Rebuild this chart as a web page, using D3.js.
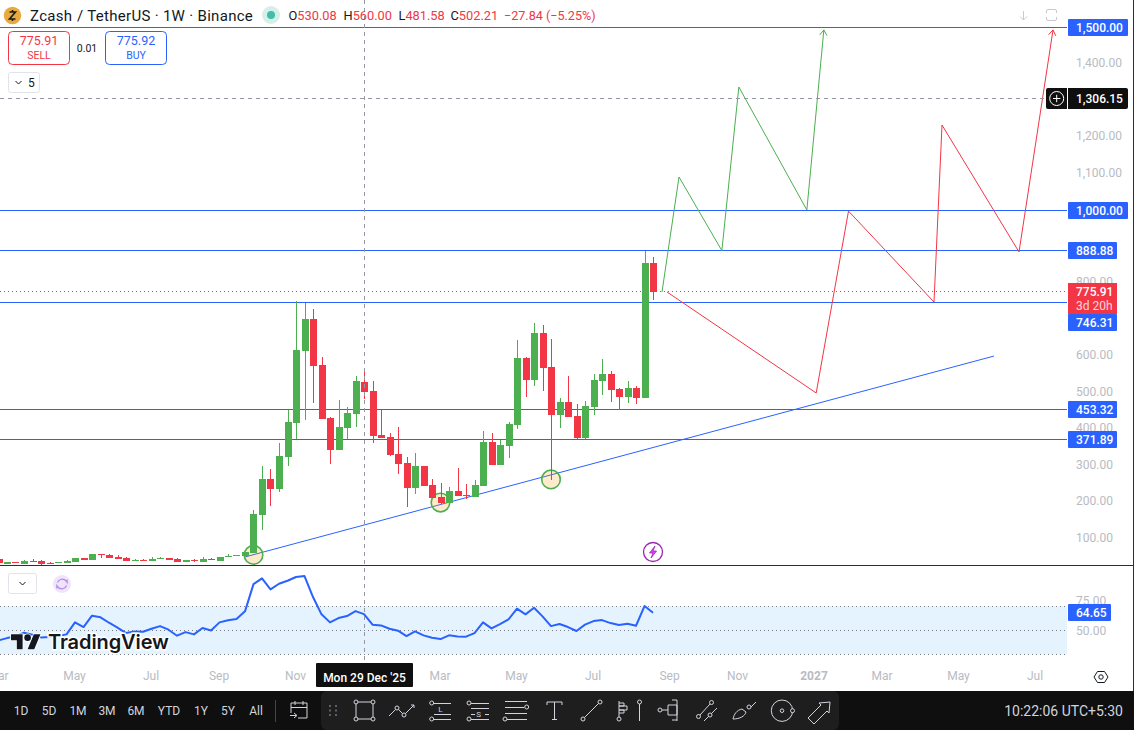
<!DOCTYPE html>
<html>
<head>
<meta charset="utf-8">
<script src="https://cdn.jsdelivr.net/npm/d3@7"></script>
<style>
  html, body { margin: 0; padding: 0; background: #fff; overflow: hidden; }
  svg { display: block; font-family: Roboto, sans-serif; }
  text { -webkit-font-smoothing: antialiased; }
</style>
</head>
<body>
<div id="chart"></div>
<script>
// weekly candles, first one is 43 weeks before the hovered candle
var firstWeek = new Date(2025, 2, 3);
var opens = [43.5, 30.7, 36.2, 30.7, 38.9, 38.9, 33.4, 33.4, 33.4, 36.2, 47.1, 41.7, 58.1, 55.3, 49.9, 47.1, 38.9, 41.7, 38.9, 44.4, 47.1, 44.4, 36.2, 41.7, 36.2, 44.4, 38.9, 49.9, 52.6, 52.5,
  61.6, 164.7, 263.2, 235.8, 323.4, 416.4, 613.4, 701, 575.1, 430.1, 342.5, 402.7, 441,
  530.08, 504, 383.6, 378.1, 331.6, 307, 238.6, 298.8, 246.8, 214, 197.6, 230.4, 219.5, 214, 244.1, 364.5, 301.6, 353.6, 411, 594.4, 534.2, 662.8, 569.7, 438.4, 474, 435.7, 375.5, 460.3, 531.4, 550.6, 509.5, 487.6, 512.3, 484.9, 854.3];
var highs = [43.5, 36.2, 36.2, 41.7, 44.4, 41.7, 36.2, 36.2, 41.7, 47.1, 47.1, 58.1, 58.1, 58.1, 55.3, 49.9, 44.4, 44.4, 49.9, 49.9, 47.1, 47.1, 41.7, 44.4, 49.9, 47.1, 49.9, 58.1, 55.3, 63.4,
  178.4, 298.8, 290.6, 361.7, 452, 750.2, 745.6, 728.3, 597, 432.8, 479.3, 460.2, 545,
  560, 531.3, 452, 389, 405.5, 323.4, 334.3, 298.8, 263.2, 252.2, 241.3, 293.4, 249.6, 260.5, 394.6, 389.2, 370, 419.2, 643.6, 597.1, 690.1, 684.6, 646.3, 484.9, 545.1, 468.5, 476.7, 550.6, 591.6, 558.8, 512.3, 531.4, 517.7, 888.88, 870.7];
var lows = [32.5, 30.7, 33.4, 30.7, 36.2, 28, 30.7, 33.4, 33.4, 36.2, 41.7, 41.7, 47.1, 47.1, 44.4, 38.9, 38.9, 38.9, 38.9, 44.4, 41.7, 36.2, 36.2, 36.2, 36.2, 41.7, 38.9, 49.9, 52.6, 52.5,
  61.6, 123.7, 189.3, 227.6, 298.8, 372.6, 424.6, 471.1, 427.4, 304.2, 342.5, 372.6, 405.5,
  481.58, 361.7, 375.4, 326.1, 276.9, 186.6, 222.2, 244, 211.2, 194.8, 197.6, 216.7, 209.5, 214, 244.1, 301.6, 301.6, 320.8, 400.1, 487.6, 517.7, 504.1, 260.6, 402.8, 433, 372.7, 372.7, 438.4, 493.1, 474, 452.1, 471.2, 468.5, 484.9, 753];
var closes = [32.5, 36.2, 33.4, 39.8, 36.2, 30.7, 30.7, 36.2, 38.9, 47.1, 41.7, 58.1, 55.3, 47.1, 44.4, 38.9, 41.7, 38.9, 44.4, 47.1, 41.7, 36.2, 41.7, 38.9, 44.4, 41.7, 49.9, 52.6, 55.3, 63.4,
  167.4, 263.2, 235.8, 326.1, 419.1, 616.1, 701, 572.4, 427.4, 342.5, 405.5, 443.8, 531.3,
  502.21, 380.8, 375.4, 328.9, 304.2, 238.6, 298.8, 244, 211.2, 197.6, 230.4, 216.7, 216.8, 246.9, 364.5, 301.6, 356.3, 413.8, 594.4, 534.2, 662.8, 567, 438.4, 474, 433, 375.5, 463, 534.2, 550.6, 506.8, 487.6, 512.3, 484.9, 854.3, 775.91];
var rsiValues = [41.6, 43.5, 44.9, 48, 46.3, 44.1, 44.4, 45.2, 46.6, 56.6, 52.7, 62.2, 60.8, 56.3, 52.2, 47.7, 49.1, 48.8, 51.3, 53.5, 50.5, 45.5, 48.5, 46.6, 51.9, 49.9, 56.6, 58.3, 59.4, 65.8,
  88.5, 93.3, 84.1, 88.8, 91.3, 94.4, 95.2, 77.7, 63.3, 56.6, 60.2, 61.9, 66,
  63.5, 54.7, 54.1, 51.3, 49.7, 45.2, 49.1, 45.8, 43.8, 42.7, 45.8, 44.9, 44.7, 47.7, 56.6, 51.6, 55.2, 59.1, 68, 63.3, 68.8, 61.6, 53.5, 55.2, 52.7, 49.4, 54.7, 57.7, 58.5, 56, 54.4, 55.5, 53.8, 70.2, 64.65];

// drawings: [weeks from the hovered candle, price]
var hoverWeek = new Date(2025, 11, 29);
var greenPath = [[35.06, 775.5], [37.06, 1090.4], [42.1, 888.88], [44.1, 1336.8], [52.1, 1000], [54.1, 1493]];
var redPath = [[35.65, 775.5], [53.2, 499], [57.0, 997], [67.06, 748], [68, 1232.7], [77.06, 885], [81.06, 1493]];
var trendLine = [[-14, 50], [74.1, 600]];
var touchCircles = [[-13, 55.6], [9, 199], [22, 262.3]];
var levels = [1500, 1000, 888.88, 746.31, 453.32, 371.89];
var levelLabels = ["1,500.00", "1,000.00", "888.88", "746.31", "453.32", "371.89"];

var priceTicks = [100, 200, 300, 400, 500, 600, 800, 1100, 1200, 1400];
var rsiTicks = [50, 75];
var rsiBands = [30, 50, 70];
var monthTicks = [new Date(2025, 2, 3), new Date(2025, 4, 5), new Date(2025, 6, 7), new Date(2025, 8, 1), new Date(2025, 10, 3),
  new Date(2026, 2, 2), new Date(2026, 4, 4), new Date(2026, 6, 6), new Date(2026, 8, 7), new Date(2026, 10, 2),
  new Date(2027, 0, 4), new Date(2027, 2, 1), new Date(2027, 4, 3), new Date(2027, 6, 5)];
var rangeButtons = ["1D", "5D", "1M", "3M", "6M", "YTD", "1Y", "5Y", "All"];
var rangeButtonX = [21, 49, 78, 107, 136, 169, 201, 228, 256];
var legendKeys = ["O", "H", "L", "C"];
var legendValues = ["530.08", "560.00", "481.58", "502.21"];
var legendX = [288.5, 343.5, 398.5, 450.5];

var up = "#4caf50", down = "#f23645", blue = "#2962ff", axisGrey = "#b8bbc2", ink = "#131722", light = "#d1d4dc";
var WEEK = 7 * 24 * 3600 * 1000;
var paneRight = 1067;

var svg = d3.select("#chart").append("svg").attr("width", 1134).attr("height", 730);

var x = d3.scaleTime().domain([hoverWeek, new Date(2027, 0, 4)]).range([364, 814.5]);
var y = d3.scaleLinear().domain([371.89, 1500]).range([439.4, 27.4]);
var yRsi = d3.scaleLinear().domain([30, 70]).range([654.3, 606.3]);

function weekX(w) { return x(new Date(hoverWeek.getTime() + w * WEEK)); }
var drawLine = d3.line().x(function (d) { return weekX(d[0]); }).y(function (d) { return y(d[1]); });

var candles = opens.map(function (o, i) {
  return { date: new Date(firstWeek.getTime() + i * WEEK), o: o, h: highs[i], l: lows[i], c: closes[i], rsi: rsiValues[i] };
});

var main = svg.append("g");

// price axis, sits under the coloured labels
var priceAxis = d3.axisRight(y).tickValues(priceTicks).tickSize(0).tickPadding(9)
  .tickFormat(d3.format(",.2f"));
var gPrice = svg.append("g").attr("transform", "translate(" + paneRight + ",0)").call(priceAxis);
gPrice.select(".domain").remove();
gPrice.selectAll("text").attr("fill", axisGrey).attr("font-size", 12).attr("font-family", "Roboto").attr("dy", "0.22em");

// horizontal levels and last price
main.selectAll("line.level").data(levels).enter().append("line").attr("class", "level")
  .attr("x1", 0).attr("x2", paneRight)
  .attr("y1", function (d) { return Math.floor(y(d)) + 0.5; })
  .attr("y2", function (d) { return Math.floor(y(d)) + 0.5; })
  .attr("stroke", blue).attr("stroke-width", 1);

main.append("line").attr("x1", 0).attr("x2", paneRight)
  .attr("y1", Math.floor(y(775.91)) + 0.5).attr("y2", Math.floor(y(775.91)) + 0.5)
  .attr("stroke", down).attr("stroke-dasharray", "1 3");

// trend line and touch circles
main.append("path").attr("d", drawLine(trendLine)).attr("fill", "none").attr("stroke", blue).attr("stroke-width", 1);
main.selectAll("circle.touch").data(touchCircles).enter().append("circle").attr("class", "touch")
  .attr("cx", function (d) { return weekX(d[0]); })
  .attr("cy", function (d) { return y(d[1]); })
  .attr("r", 9.3)
  .attr("fill", "#ff9800").attr("fill-opacity", 0.2)
  .attr("stroke", up).attr("stroke-width", 1.6);

// forecast zigzags
function arrowHead(path, color) {
  var a = path[path.length - 2], b = path[path.length - 1];
  var bx = weekX(b[0]), by = y(b[1]);
  var ang = Math.atan2(by - y(a[1]), bx - weekX(a[0]));
  var len = 6.5;
  main.append("path")
    .attr("d", "M" + (bx - len * Math.cos(ang - 0.6)) + "," + (by - len * Math.sin(ang - 0.6)) + "L" + bx + "," + by +
      "L" + (bx - len * Math.cos(ang + 0.6)) + "," + (by - len * Math.sin(ang + 0.6)))
    .attr("fill", "none").attr("stroke", color).attr("stroke-width", 1);
}
main.append("path").attr("d", drawLine(greenPath)).attr("fill", "none").attr("stroke", up).attr("stroke-width", 1);
main.append("path").attr("d", drawLine(redPath)).attr("fill", "none").attr("stroke", down).attr("stroke-width", 1);
arrowHead(greenPath, up);
arrowHead(redPath, down);

// candles
svg.append("clipPath").attr("id", "paneClip").append("rect").attr("x", 0).attr("y", 0).attr("width", paneRight).attr("height", 565);
var gCandles = svg.append("g").attr("clip-path", "url(#paneClip)");
var candle = gCandles.selectAll("g").data(candles).enter().append("g")
  .attr("fill", function (d) { return d.c >= d.o ? up : down; });
candle.append("rect")
  .attr("x", function (d) { return Math.round(x(d.date)); })
  .attr("width", 1)
  .attr("y", function (d) { return Math.round(y(d.h)); })
  .attr("height", function (d) { return Math.max(1, Math.round(y(d.l)) - Math.round(y(d.h))); });
candle.append("rect")
  .attr("x", function (d) { return Math.round(x(d.date)) - 3; })
  .attr("width", 7)
  .attr("y", function (d) { return Math.round(y(Math.max(d.o, d.c))); })
  .attr("height", function (d) { return Math.max(1, Math.round(y(Math.min(d.o, d.c))) - Math.round(y(Math.max(d.o, d.c)))); });

// pane separator
svg.append("rect").attr("x", 0).attr("y", 565).attr("width", 1134).attr("height", 1).attr("fill", "#2a2e39");
svg.append("rect").attr("x", 1133).attr("y", 0).attr("width", 1).attr("height", 691).attr("fill", "#2a2e39");

// rsi pane
svg.append("rect").attr("x", 0).attr("width", paneRight).attr("y", yRsi(70)).attr("height", yRsi(30) - yRsi(70))
  .attr("fill", "#e3f2fd").attr("fill-opacity", 0.95);
svg.selectAll("line.band").data(rsiBands).enter().append("line").attr("class", "band")
  .attr("x1", 0).attr("x2", paneRight)
  .attr("y1", function (d) { return Math.floor(yRsi(d)) + 0.5; })
  .attr("y2", function (d) { return Math.floor(yRsi(d)) + 0.5; })
  .attr("stroke", "#787b86").attr("stroke-dasharray", "1 3");
svg.append("path").datum(candles)
  .attr("d", d3.line().x(function (d) { return x(d.date); }).y(function (d) { return yRsi(d.rsi); }))
  .attr("fill", "none").attr("stroke", blue).attr("stroke-width", 2).attr("stroke-linejoin", "round");

var rsiAxis = d3.axisRight(yRsi).tickValues(rsiTicks).tickSize(0).tickPadding(9).tickFormat(d3.format(".2f"));
var gRsi = svg.append("g").attr("transform", "translate(" + paneRight + ",0)").call(rsiAxis);
gRsi.select(".domain").remove();
gRsi.selectAll("text").attr("fill", axisGrey).attr("font-size", 12).attr("font-family", "Roboto");

// time axis
var monthFormat = function (d) { return d.getMonth() === 0 ? String(d.getFullYear()) : d3.timeFormat("%b")(d); };
var timeAxis = d3.axisBottom(x).tickValues(monthTicks).tickSize(0).tickPadding(0).tickFormat(monthFormat);
var gTime = svg.append("g").attr("transform", "translate(-1,671)").call(timeAxis);
gTime.select(".domain").remove();
gTime.selectAll("text").attr("fill", axisGrey).attr("font-size", 12).attr("font-family", "Roboto")
  .attr("font-weight", function (d) { return d.getMonth() === 0 ? 700 : 400; });

// crosshair
svg.append("line").attr("x1", 364.5).attr("x2", 364.5).attr("y1", 0).attr("y2", 660)
  .attr("stroke", "#9598a1").attr("stroke-dasharray", "4 4");
svg.append("line").attr("x1", 0).attr("x2", paneRight).attr("y1", Math.floor(y(1306.15)) + 0.5).attr("y2", Math.floor(y(1306.15)) + 0.5)
  .attr("stroke", "#9598a1").attr("stroke-dasharray", "4 4");

// coloured price labels
function priceLabel(value, text, w, cy, color) {
  svg.append("rect").attr("x", 1068).attr("y", cy - 8.5).attr("width", w).attr("height", 17).attr("rx", 1).attr("fill", color);
  svg.append("text").attr("x", 1076).attr("y", cy + 4.3).attr("font-size", 12).attr("fill", "#fff").attr("font-weight", 500).text(text);
}
levels.forEach(function (v, i) {
  var cy = Math.floor(y(v)) + 0.5;
  if (v === 746.31) cy = 322.5;
  priceLabel(v, levelLabels[i], levelLabels[i].length > 6 ? 60 : 49, cy, blue);
});
svg.append("rect").attr("x", 1068).attr("y", 283).attr("width", 49).attr("height", 31).attr("fill", down);
svg.append("text").attr("x", 1076).attr("y", 296).attr("font-size", 12).attr("fill", "#fff").attr("font-weight", 500).text("775.91");
svg.append("text").attr("x", 1076).attr("y", 310).attr("font-size", 12).attr("fill", "#fff").attr("fill-opacity", 0.8).text("3d 20h");
priceLabel(64.65, "64.65", 43, 612.5, blue);

// crosshair price label
svg.append("rect").attr("x", 1046).attr("y", 88).attr("width", 82).attr("height", 21).attr("rx", 2).attr("fill", "#0f0f0f");
svg.append("rect").attr("x", 1067).attr("y", 88).attr("width", 1).attr("height", 21).attr("fill", "#fff");
svg.append("circle").attr("cx", 1056.7).attr("cy", 98.5).attr("r", 7).attr("fill", "none").attr("stroke", "#fff");
svg.append("path").attr("d", "M1053 98.5h7.4M1056.7 94.8v7.4").attr("stroke", "#fff").attr("fill", "none");
svg.append("text").attr("x", 1076).attr("y", 102.8).attr("font-size", 12).attr("fill", "#fff").attr("font-weight", 500).text("1,306.15");

// corner icons
svg.append("path").attr("d", "M1023.5 11v9M1020 16.5l3.5 3.5 3.5-3.5").attr("fill", "none").attr("stroke", "#c8cad0");
svg.append("path").attr("d", "M1046.5 13v-2a1.5 1.5 0 0 1 1.5-1.5h7a1.5 1.5 0 0 1 1.5 1.5v2M1046.5 17v2a1.5 1.5 0 0 0 1.5 1.5h7a1.5 1.5 0 0 0 1.5-1.5v-2")
  .attr("fill", "none").attr("stroke", "#c8cad0");

// header
svg.append("circle").attr("cx", 12.5).attr("cy", 15.5).attr("r", 8.7).attr("fill", "#e8a93e");
svg.append("path").attr("d", "M9.5 12h6l-6 7h6M12.5 10v2M12.5 19v2").attr("fill", "none").attr("stroke", "#1b1b1b").attr("stroke-width", 1.6);
svg.append("text").attr("x", 30).attr("y", 20.5).attr("font-size", 15).attr("letter-spacing", 0.3).attr("fill", ink).text("Zcash");
svg.append("text").attr("x", 77).attr("y", 20.5).attr("font-size", 15).attr("letter-spacing", 0.3).attr("fill", ink).text("/ TetherUS · 1W · Binance");
svg.append("circle").attr("cx", 271).attr("cy", 15).attr("r", 9).attr("fill", "#d6efea");
svg.append("circle").attr("cx", 271).attr("cy", 15).attr("r", 4).attr("fill", "#42bda8");

legendKeys.forEach(function (k, i) {
  var t = svg.append("text").attr("x", legendX[i]).attr("y", 20).attr("font-size", 12.8).attr("fill", down);
  t.append("tspan").attr("fill", ink).text(k);
  t.append("tspan").text(legendValues[i]);
});
svg.append("text").attr("x", 504).attr("y", 20).attr("font-size", 12.6).attr("fill", down).text("−27.84 (−5.25%)");

// buy and sell buttons
function tradeBox(bx, color, price, label) {
  svg.append("rect").attr("x", bx + 0.5).attr("y", 31.5).attr("width", 61).attr("height", 33).attr("rx", 4).attr("fill", "#fff").attr("stroke", color);
  svg.append("text").attr("x", bx + 31).attr("y", 45).attr("text-anchor", "middle").attr("font-size", 12.5).attr("fill", color).text(price);
  svg.append("text").attr("x", bx + 31).attr("y", 59).attr("text-anchor", "middle").attr("font-size", 10.5).attr("fill", color).text(label);
}
tradeBox(8, down, "775.91", "SELL");
tradeBox(105, blue, "775.92", "BUY");
svg.append("text").attr("x", 87).attr("y", 51.5).attr("text-anchor", "middle").attr("font-size", 10.5).attr("fill", ink).text("0.01");

svg.append("rect").attr("x", 8.5).attr("y", 72.5).attr("width", 31).attr("height", 20).attr("rx", 2).attr("fill", "#fff").attr("stroke", "#e0e3eb");
svg.append("path").attr("d", "M15.5 81l3 3 3-3").attr("fill", "none").attr("stroke", ink);
svg.append("text").attr("x", 28).attr("y", 87).attr("font-size", 12).attr("fill", ink).text("5");

// lightning marker
svg.append("circle").attr("cx", 653).attr("cy", 552).attr("r", 9.5).attr("fill", "#fff").attr("stroke", "#9c27b0").attr("stroke-width", 1.3);
svg.append("path").attr("d", "M655 546l-5.5 7h3.5l-2 5 5.5-7h-3.5z").attr("fill", "#e040fb").attr("stroke", "#9c27b0").attr("stroke-width", 0.8);

// rsi pane buttons
svg.append("rect").attr("x", 8.5).attr("y", 573.5).attr("width", 28).attr("height", 20).attr("rx", 2).attr("fill", "#fff").attr("stroke", "#e0e3eb");
svg.append("path").attr("d", "M19.5 582l3 3 3-3").attr("fill", "none").attr("stroke", ink);
svg.append("circle").attr("cx", 62).attr("cy", 584).attr("r", 9).attr("fill", "#efe4fb");
svg.append("path").attr("d", "M57.5 582.5a5 5 0 0 1 8.6-1.5l1 1.5v-3M66.5 585.5a5 5 0 0 1-8.6 1.5l-1-1.5v3").attr("fill", "none").attr("stroke", "#b388e8").attr("stroke-width", 1.2);

// TradingView watermark
var logo = svg.append("g").attr("transform", "translate(11,631) scale(0.83)");
logo.append("path").attr("d", "M14 22H7V11H0V4h14v18zM28 22h-8l7.5-18h8L28 22z").attr("fill", "#131722").attr("stroke", "#fff").attr("stroke-width", 2).attr("paint-order", "stroke");
logo.append("circle").attr("cx", 20).attr("cy", 8).attr("r", 4).attr("fill", "#131722").attr("stroke", "#fff").attr("stroke-width", 2).attr("paint-order", "stroke");
svg.append("text").attr("x", 48).attr("y", 649).attr("font-family", "Inter").attr("font-size", 20).attr("font-weight", 600).attr("letter-spacing", -0.1)
  .attr("fill", "#131722").attr("stroke", "#fff").attr("stroke-width", 3).attr("paint-order", "stroke").text("TradingView");

// hovered date
svg.append("rect").attr("x", 316).attr("y", 663).attr("width", 97).attr("height", 24).attr("rx", 1).attr("fill", "#0f0f0f");
svg.append("text").attr("x", 364.5).attr("y", 682).attr("text-anchor", "middle").attr("font-size", 12).attr("font-weight", 500).attr("fill", "#fff").text("Mon 29 Dec '25");

// gear
svg.append("path").attr("d", "M1094 677l3.5-5.5h7l3.5 5.5-3.5 5.5h-7z").attr("fill", "none").attr("stroke", ink);
svg.append("circle").attr("cx", 1101).attr("cy", 677).attr("r", 2.2).attr("fill", "none").attr("stroke", ink);

// bottom bar
svg.append("rect").attr("x", 0).attr("y", 691).attr("width", 1134).attr("height", 39).attr("fill", "#0f0f0f");
svg.selectAll("text.range").data(rangeButtons).enter().append("text").attr("class", "range")
  .attr("x", function (d, i) { return rangeButtonX[i]; }).attr("y", 715)
  .attr("text-anchor", "middle").attr("font-size", 12).attr("fill", light)
  .text(function (d) { return d; });
svg.append("rect").attr("x", 275).attr("y", 700).attr("width", 1).attr("height", 22).attr("fill", "#434651");
svg.append("text").attr("x", 1123).attr("y", 715.5).attr("text-anchor", "end").attr("font-size", 14).attr("fill", light).text("10:22:06 UTC+5:30");

svg.append("rect").attr("x", 321).attr("y", 691).attr("width", 518).attr("height", 39).attr("rx", 6).attr("fill", "#1e1e1e");
var tools = svg.append("g").attr("fill", "none").attr("stroke", light).attr("stroke-width", 1);

function node(cx, cy) { tools.append("circle").attr("cx", cx).attr("cy", cy).attr("r", 2).attr("fill", "#1e1e1e"); }
function stroke(d) { tools.append("path").attr("d", d); }
function letter(lx, ly, s) {
  svg.append("text").attr("x", lx).attr("y", ly).attr("text-anchor", "middle").attr("font-size", 8).attr("fill", light).text(s);
}

// calendar
stroke("M291 713v-10h16v15h-9M291 707.5h16M295 701v4M303 701v4M290 715.5h6M294 713l3 2.5-3 2.5");
// grip
tools.append("g").attr("stroke", "none").attr("fill", "#5d606b").selectAll("rect").data(d3.range(6)).enter().append("rect")
  .attr("x", function (d) { return 329 + (d % 2) * 6; }).attr("y", function (d) { return 705 + Math.floor(d / 2) * 4.5; })
  .attr("width", 2).attr("height", 2);
// rectangle
stroke("M356 702h17v17h-17z"); node(356, 702); node(373, 702); node(356, 719); node(373, 719);
// path
stroke("M389 716l8-8 7 7 10-10M411 705h3v3"); node(397, 708); node(404, 715);
// long, short positions
stroke("M434 703.5h17M434 714.5h17M434 719.5h17"); node(431.7, 703); node(431.7, 719); letter(440.5, 712, "L");
stroke("M471 703.5h18M471 708.5h18M471 719.5h18M471 714.5h4M485 714.5h4"); node(469, 703); node(469, 719); letter(478.7, 717, "S");
// lines
stroke("M505 701.5h22M505 707.5h19M505 713.5h22M507 719.5h20"); node(526.7, 707); node(505, 719);
// text
stroke("M547 705v-3h15v3M554.5 702v17M552 719.5h5");
// trend
stroke("M584 718l16-16"); node(583, 719); node(600, 702);
// fib and vertical
stroke("M619 701v17M619 703h5v3h-5M619 706h8v4h-8M619 710h5v3h-5M639.5 704v17"); node(619, 719); node(639.5, 702);
// ruler
stroke("M662 710h6M668 705h9v10h-9zM672 700h5M672 720h5M677 700v21"); node(660, 710);
// channel
stroke("M700 715l10-11M704 721l13-13"); node(698.5, 716.5); node(711.5, 702.5); node(710, 715);
// brush
stroke("M733 719c1-5 4-9 9-10l4 3c-1 4-6 7-13 7zM751 707l5-5");
node(749, 707);
// circle
tools.append("circle").attr("cx", 782).attr("cy", 710.7).attr("r", 10.7);
tools.append("circle").attr("cx", 782).attr("cy", 710.7).attr("r", 1.8);
node(792.5, 710.7);
// arrow
stroke("M810 720l-2-2 13-13-2-2 11-1-1 11-2-2-13 13z");
</script>
</body>
</html>
